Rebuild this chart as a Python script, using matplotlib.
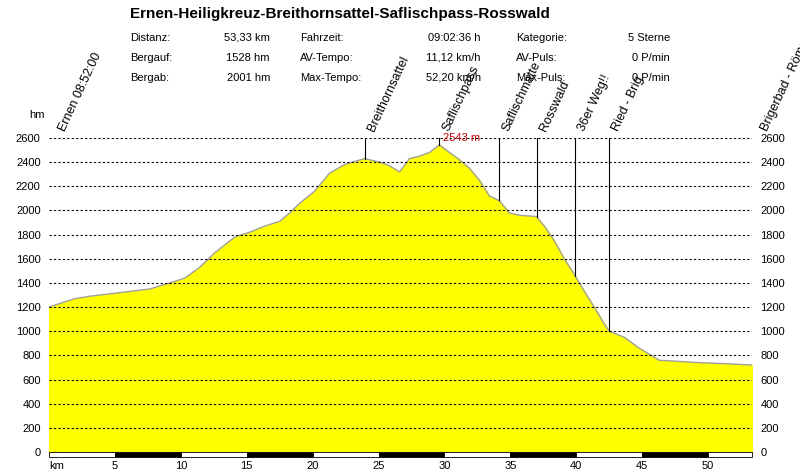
import matplotlib
matplotlib.use("Agg")
import matplotlib.pyplot as plt

plt.rcParams['font.family'] = ['Liberation Sans', 'DejaVu Sans']

km = [0, 0.83, 1.97, 3.1, 4.62, 6.14, 7.65, 9.17, 10.3, 11.44, 12.58, 14.09, 15.23, 16.36, 17.5,
      18.26, 19.02, 20.15, 21.29, 22.42, 23.94, 25.08, 25.83, 26.59, 27.35, 28.1, 28.86, 29.62,
      30.38, 31.14, 31.89, 32.65, 33.41, 34.17, 34.92, 35.68, 36.97, 37.58, 38.33, 39.09, 39.85,
      40.61, 41.36, 42.12, 42.5, 43.64, 44.77, 46.29, 47.8, 49.32, 51.59, 53.33]
elev = [1200, 1230, 1270, 1290, 1310, 1330, 1350, 1400, 1440, 1530, 1650, 1780, 1820, 1870, 1910,
        1980, 2060, 2160, 2310, 2380, 2430, 2400, 2370, 2320, 2430, 2450, 2480, 2543,
        2480, 2420, 2350, 2250, 2120, 2080, 1980, 1960, 1950, 1870, 1750, 1600, 1470,
        1330, 1200, 1060, 1000, 950, 860, 760, 750, 740, 730, 720]

way_names = ["Breithornsattel", "Saflischpass", "Saflischmatte", "Rosswald", "36er Weg!!", "Ried - Brig"]
way_km = [23.94, 29.62, 34.1, 37.0, 39.9, 42.5]
start_label = "Ernen 08:52:00"
end_label = "Brigerbad - Römerbad"

fig = plt.figure(figsize=(8, 4.74), dpi=100)
ax = fig.add_axes([49/800, 1-452/474, 703/800, 314/474])
ax.fill_between(km, elev, 0, color='#ffff00', zorder=1)
ax.plot(km, elev, color='#a0a0a0', lw=1, zorder=2)
ax.set_xlim(0, 53.33)
ax.set_ylim(0, 2600)
yt = list(range(0, 2601, 200))
for y in yt:
    ax.axhline(y, color='black', lw=0.8, ls=(0, (2, 2)), zorder=3)
ax.set_yticks(yt)
ax.tick_params(axis='y', labelsize=8, length=0, right=True, labelright=True, pad=6)
ax.set_xticks([])
for s in ax.spines.values():
    s.set_visible(False)

import numpy as np
for k, n in zip(way_km, way_names):
    h = np.interp(k, km, elev)
    ax.plot([k, k], [h, 2600], color='black', lw=0.8, zorder=4)
    ax.text(k + 0.1, 2640, n, rotation=65, fontsize=9, ha='left', va='bottom', clip_on=False)
ax.text(0.6, 2640, start_label, rotation=65, fontsize=9, ha='left', va='bottom', clip_on=False)
ax.text(53.9, 2640, end_label, rotation=65, fontsize=9, ha='left', va='bottom', clip_on=False)
ax.text(29.9, 2555, "2543 m", color='#c00000', fontsize=8, ha='left', va='bottom')
ax.text(-0.3, 2750, "hm", fontsize=8, ha='right', va='bottom', clip_on=False)

# km bar
for i in range(11):
    x0 = i * 5
    x1 = min(53.33, x0 + 5)
    c = 'black' if i % 2 == 1 else 'white'
    ax.add_patch(plt.Rectangle((x0, -45), x1 - x0, 45, facecolor=c, edgecolor='black', lw=0.6, clip_on=False, transform=ax.transData))
for v in range(5, 51, 5):
    ax.text(v, -75, str(v), fontsize=8, ha='center', va='top', clip_on=False)
ax.text(0, -75, "km", fontsize=8, ha='left', va='top', clip_on=False)

fig.text(130/800, 1-14/474, "Ernen-Heiligkreuz-Breithornsattel-Saflischpass-Rosswald", fontsize=11, fontweight='bold', va='center')
rows = [("Distanz:", "53,33 km", "Fahrzeit:", "09:02:36 h", "Kategorie:", "5 Sterne"),
        ("Bergauf:", "1528 hm", "AV-Tempo:", "11,12 km/h", "AV-Puls:", "0 P/min"),
        ("Bergab:", "2001 hm", "Max-Tempo:", "52,20 km/h", "Max-Puls:", "0 P/min")]
for r, row in enumerate(rows):
    y = 1 - (38 + r * 20) / 474
    fig.text(130/800, y, row[0], fontsize=8, va='center')
    fig.text(270/800, y, row[1], fontsize=8, va='center', ha='right')
    fig.text(300/800, y, row[2], fontsize=8, va='center')
    fig.text(481/800, y, row[3], fontsize=8, va='center', ha='right')
    fig.text(516/800, y, row[4], fontsize=8, va='center')
    fig.text(670/800, y, row[5], fontsize=8, va='center', ha='right')

fig.savefig("out.png", dpi=100)
